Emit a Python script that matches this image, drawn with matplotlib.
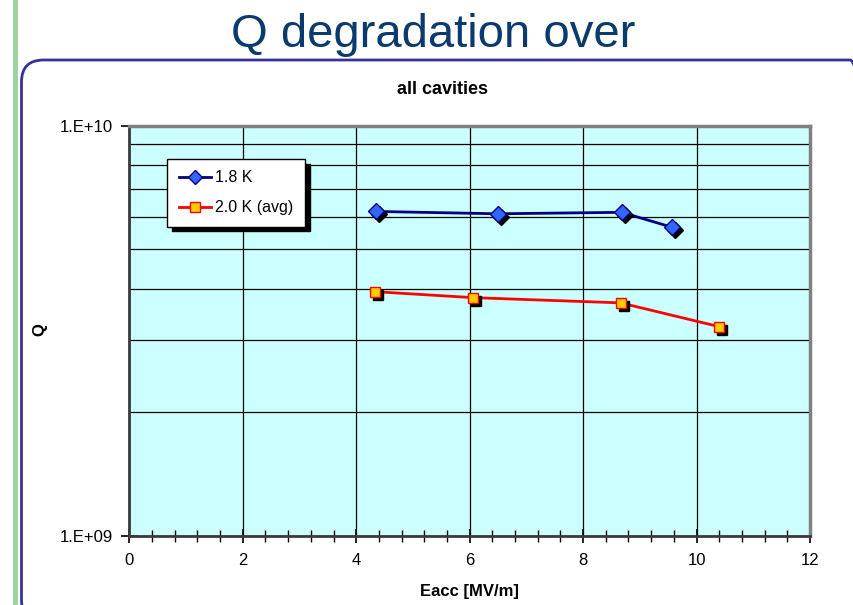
import matplotlib
matplotlib.use("Agg")
import matplotlib.pyplot as plt
import numpy as np
from matplotlib.patches import FancyBboxPatch
from matplotlib.lines import Line2D
from matplotlib.transforms import IdentityTransform, offset_copy
from matplotlib.ticker import LogLocator, FuncFormatter, MultipleLocator, NullFormatter

# ==========================================================
# DATA
# ==========================================================

slide_title = "Q degradation over"
chart_title = "all cavities"

eacc_18 = [4.35, 6.50, 8.68, 9.56]
q_18 = [6.18e9, 6.10e9, 6.15e9, 5.66e9]

eacc_20 = [4.33, 6.06, 8.66, 10.39]
q_20 = [3.94e9, 3.81e9, 3.70e9, 3.24e9]

labels = ["1.8 K", "2.0 K (avg)"]

# ==========================================================
# PLOT
# ==========================================================

plt.rcParams.update({
    "font.family": "Liberation Sans",
    "font.size": 12
})

W, H = 854, 605
fig = plt.figure(figsize=(W / 100, H / 100), dpi=100)
fig.patch.set_facecolor("white")

# plot area in pixels: left 129, right 810, top 126, bottom 536
ax = fig.add_axes([129.3 / W, (H - 536) / H, 680.7 / W, 410.3 / H])
ax.set_facecolor("#CCFFFF")

# slide decorations (box runs off the right and bottom edges)
fig.add_artist(Line2D([14.5, 14.5], [0, H], transform=IdentityTransform(),
                      color="#9FD29F", lw=3.5))
fig.add_artist(FancyBboxPatch((21.5, -17), 872 - 21.5, H - 60 + 17,
                              boxstyle="round,pad=0,rounding_size=22",
                              transform=IdentityTransform(), fill=False,
                              edgecolor="#333399", lw=2))

fig.text(433 / W, 1 - 47 / H, slide_title, ha="center", va="baseline",
         fontsize=34, color="#0B3B6E")
fig.text(443 / W, 1 - 89 / H, chart_title, ha="center", va="center",
         fontsize=13, weight="bold")

# lines
ax.plot(eacc_18, q_18, color="#000080", lw=2, zorder=3)
ax.plot(eacc_20, q_20, color="#FF0000", lw=2, zorder=3)

# marker shadows
shadow = offset_copy(ax.transData, fig=fig, x=3, y=-3, units="dots")
ax.plot(eacc_18, q_18, ls="none", marker="D", ms=8, color="black",
        transform=shadow, zorder=4)
ax.plot(eacc_20, q_20, ls="none", marker="s", ms=7, color="black",
        transform=shadow, zorder=4)

# markers
ax.plot(eacc_18, q_18, ls="none", marker="D", ms=8,
        markerfacecolor="#3366FF", markeredgecolor="#000080", mew=1, zorder=5)
ax.plot(eacc_20, q_20, ls="none", marker="s", ms=7,
        markerfacecolor="#FFCC00", markeredgecolor="#FF0000", mew=1, zorder=5)

# ==========================================================
# FORMAT
# ==========================================================

ax.set_yscale("log")
ax.set_xlim(0, 12)
ax.set_ylim(1e9, 1e10)

ax.xaxis.set_major_locator(MultipleLocator(2))
ax.xaxis.set_minor_locator(MultipleLocator(0.4))
ax.yaxis.set_major_locator(LogLocator(base=10))
ax.yaxis.set_minor_locator(LogLocator(base=10, subs=np.arange(2, 10)))
ax.yaxis.set_minor_formatter(NullFormatter())
ax.yaxis.set_major_formatter(
    FuncFormatter(lambda v, p: f"1.E+{int(round(np.log10(v))):02d}"))

ax.tick_params(axis="x", which="major", direction="inout", length=10,
               width=1.2, pad=7, labelsize=12)
ax.tick_params(axis="x", which="minor", direction="inout", length=9, width=1)
ax.tick_params(axis="y", which="major", direction="inout", length=12,
               width=1.2, pad=6, labelsize=12)
ax.tick_params(axis="y", which="minor", length=0)

ax.grid(axis="x", which="major", color="black", lw=0.9)
ax.grid(axis="y", which="both", color="black", lw=0.9)
ax.set_axisbelow(True)

for s in ["left", "bottom"]:
    ax.spines[s].set_color("#3A3A3A")
    ax.spines[s].set_linewidth(2)
for s in ["top", "right"]:
    ax.spines[s].set_color("#808080")
    ax.spines[s].set_linewidth(2.5)

ax.set_xlabel("Eacc [MV/m]", fontsize=12, weight="bold")
ax.xaxis.set_label_coords(0.5, -0.118)
fig.text(40 / W, 1 - 330 / H, "Q", rotation=90, ha="center", va="center",
         fontsize=12, weight="bold")

# legend
handles = [
    Line2D([], [], color="#000080", lw=2, marker="D", ms=7.5,
           markerfacecolor="#3366FF", markeredgecolor="#000080"),
    Line2D([], [], color="#FF0000", lw=2, marker="s", ms=6.8,
           markerfacecolor="#FFCC00", markeredgecolor="#FF0000"),
]
leg = ax.legend(handles, labels, loc="upper left",
                bbox_to_anchor=(167.5 / W, 1 - 159 / H),
                bbox_transform=fig.transFigure, borderaxespad=0,
                fancybox=False, framealpha=1, edgecolor="black",
                fontsize=11.5, handlelength=2.0, handletextpad=0.3,
                labelspacing=0.95, borderpad=0.7, numpoints=1,
                shadow={"ox": 3.5, "oy": -3.5, "facecolor": "black",
                        "edgecolor": "black", "alpha": 1})
leg.get_frame().set_linewidth(1)
leg.set_zorder(10)

plt.savefig("out.png", dpi=100)
